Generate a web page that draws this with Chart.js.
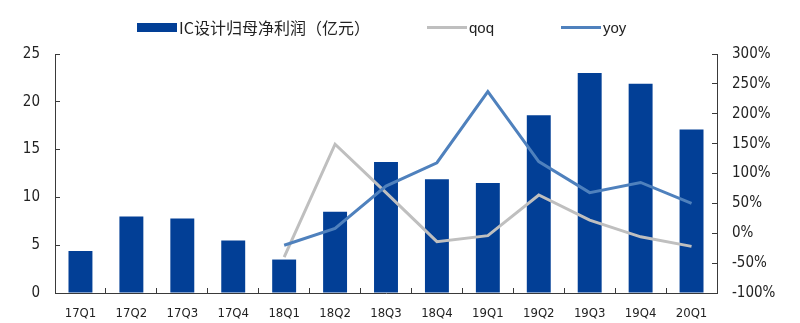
<!DOCTYPE html>
<html>
<head>
<meta charset="utf-8">
<script src="https://cdn.jsdelivr.net/npm/chart.js@4"></script>
<style>
  body { margin: 0; background: #fff; }
  #wrap { position: relative; width: 800px; height: 323px; }
  #legend { position: absolute; left: 0; top: 0; width: 800px; height: 40px; }
  .item { position: absolute; top: 17px; height: 20px; display: flex; align-items: center; }
  .swatch { width: 40px; }
  .txt { color: #222; margin-left: 2px; white-space: nowrap; }
</style>
</head>
<body>
<div id="wrap">
  <div id="legend"></div>
  <canvas id="chart" width="800" height="323"></canvas>
</div>
<script>
// 季度
const quarters = ['17Q1', '17Q2', '17Q3', '17Q4', '18Q1', '18Q2', '18Q3', '18Q4', '19Q1', '19Q2', '19Q3', '19Q4', '20Q1'];
// IC设计归母净利润（亿元）
const profit = [4.4, 8.0, 7.8, 5.5, 3.5, 8.5, 13.7, 11.9, 11.5, 18.6, 23.0, 21.9, 17.1];
// 环比 / 同比 (%)
const qoq = [null, null, null, null, -40, 149, 68, -14, -4, 64, 22, -6, -22];
const yoy = [null, null, null, null, -20, 8, 79, 118, 237, 120, 68, 85, 50];
// 坐标轴刻度
const leftTicks = [0, 5, 10, 15, 20, 25];
const rightTicks = [-100, -50, 0, 50, 100, 150, 200, 250, 300];

const BAR = '#023f96';
const GREY = '#bfbfbf';
const BLUE = '#4f81bd';
const AXIS = '#3a3a3a';

const tickFont = { family: '"DejaVu Sans Condensed", "DejaVu Sans", sans-serif', size: 15 };

const ctx = document.getElementById('chart').getContext('2d');
const chart = new Chart(ctx, {
    data: {
        labels: quarters,
        datasets: [
            {
                type: 'line', label: 'yoy', data: yoy, yAxisID: 'y1', order: 0,
                borderColor: BLUE, backgroundColor: BLUE, borderWidth: 3,
                pointRadius: 0, tension: 0, spanGaps: false
            },
            {
                type: 'line', label: 'qoq', data: qoq, yAxisID: 'y1', order: 1,
                borderColor: GREY, backgroundColor: GREY, borderWidth: 3,
                pointRadius: 0, tension: 0, spanGaps: false
            },
            {
                type: 'bar', label: 'IC设计归母净利润（亿元）', data: profit, yAxisID: 'y', order: 2,
                backgroundColor: BAR, barPercentage: 0.47, categoryPercentage: 1
            }
        ]
    },
    options: {
        responsive: false,
        animation: false,
        layout: { padding: { top: 54, left: 0, right: 0, bottom: 0 } },
        plugins: {
            legend: { display: false },
            tooltip: { enabled: false }
        },
        scales: {
            x: {
                offset: true,
                grid: { display: true, offset: true, drawOnChartArea: false, drawTicks: true, tickLength: -5, color: AXIS },
                border: { display: true, color: AXIS, width: 1 },
                ticks: {
                    color: '#222', padding: 18, maxRotation: 0,
                    font: { family: '"Liberation Sans Narrow", "DejaVu Sans Condensed", sans-serif', size: 13 }
                },
                afterFit: scale => { scale.height = 30; }
            },
            y: {
                position: 'left', min: 0, max: 25,
                afterBuildTicks: scale => { scale.ticks = leftTicks.map(v => ({ value: v })); },
                grid: { drawOnChartArea: false, drawTicks: true, tickLength: -5, color: AXIS },
                border: { display: true, color: AXIS, width: 1 },
                ticks: { color: '#222', padding: 20, font: tickFont },
                afterFit: scale => { scale.width = 55; }
            },
            y1: {
                position: 'right', min: -100, max: 300,
                afterBuildTicks: scale => { scale.ticks = rightTicks.map(v => ({ value: v })); },
                grid: { drawOnChartArea: false, drawTicks: true, tickLength: -5, color: AXIS },
                border: { display: true, color: AXIS, width: 1 },
                ticks: { color: '#222', padding: 20, font: tickFont, callback: v => v + '%' },
                afterFit: scale => { scale.width = 83; }
            }
        }
    }
});

// 图例：柱子用色块，折线用线段
const legendLeft = [137, 427, 561];
const legendEl = document.getElementById('legend');
[2, 1, 0].forEach((dsIndex, i) => {
    const ds = chart.data.datasets[dsIndex];
    const item = document.createElement('div');
    item.className = 'item';
    item.style.left = legendLeft[i] + 'px';
    const sw = document.createElement('div');
    sw.className = 'swatch';
    sw.style.height = ds.type === 'bar' ? '9px' : '3px';
    sw.style.background = ds.type === 'bar' ? ds.backgroundColor : ds.borderColor;
    const txt = document.createElement('span');
    txt.className = 'txt';
    txt.textContent = ds.label;
    txt.style.font = ds.type === 'bar'
        ? '16px "Noto Sans CJK SC", sans-serif'
        : '15px "Liberation Sans Narrow", "Liberation Sans", sans-serif';
    item.appendChild(sw);
    item.appendChild(txt);
    legendEl.appendChild(item);
});
</script>
</body>
</html>
